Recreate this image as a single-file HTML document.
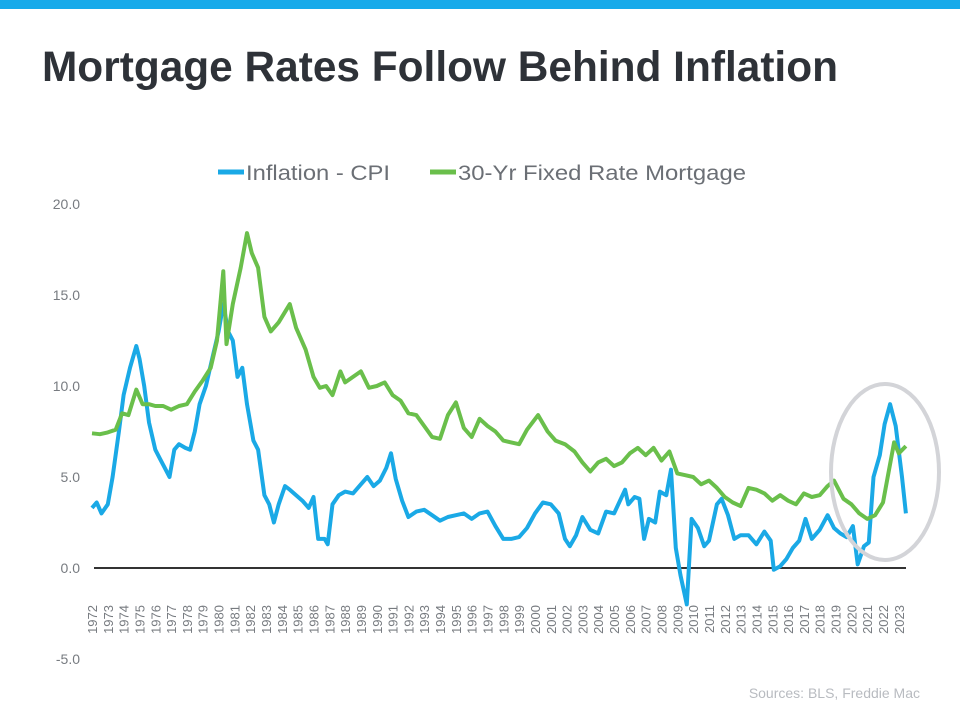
<!DOCTYPE html>
<html><head><meta charset="utf-8"><style>
body{margin:0;background:#fff;}
svg{display:block;font-family:"Liberation Sans",Arial,sans-serif;}
</style></head><body>
<svg id="chart" width="960" height="704">
<rect x="0" y="0" width="960" height="9" fill="#17aaea"/>
<text x="42" y="81" font-size="43" font-weight="bold" fill="#2e3238" textLength="796" lengthAdjust="spacingAndGlyphs">Mortgage Rates Follow Behind Inflation</text>
<g>
<line x1="218" y1="172" x2="244" y2="172" stroke="#1aa9e6" stroke-width="5"/>
<text x="246" y="180" font-size="21.5" fill="#6b6f75" textLength="144" lengthAdjust="spacingAndGlyphs">Inflation - CPI</text>
<line x1="430" y1="172" x2="456" y2="172" stroke="#6abf4b" stroke-width="5"/>
<text x="458" y="180" font-size="21.5" fill="#6b6f75" textLength="288" lengthAdjust="spacingAndGlyphs">30-Yr Fixed Rate Mortgage</text>
</g>
<g id="yaxis"></g>
<g id="xaxis"></g>
<g id="series"></g>
<ellipse cx="885" cy="472" rx="54" ry="88" fill="none" stroke="#d3d4d8" stroke-width="4"/>
<text x="920" y="698" font-size="14" fill="#b8bbc0" text-anchor="end">Sources: BLS, Freddie Mac</text>
</svg>
<script>
const yTicks=[20,15,10,5,0,-5];
const yearLabels=[];for(let y=1972;y<=2023;y++)yearLabels.push(String(y));
const cpiT=[1972.0,1972.3,1972.6,1973.0,1973.3,1973.7,1974.0,1974.4,1974.8,1975.0,1975.3,1975.6,1976.0,1976.3,1976.6,1976.9,1977.2,1977.5,1977.9,1978.2,1978.5,1978.8,1979.2,1979.6,1980.0,1980.3,1980.6,1980.9,1981.2,1981.5,1981.8,1982.2,1982.5,1982.9,1983.2,1983.5,1983.8,1984.2,1984.5,1984.9,1985.3,1985.7,1986.0,1986.3,1986.7,1986.9,1987.2,1987.6,1988.0,1988.5,1989.0,1989.4,1989.8,1990.2,1990.6,1990.9,1991.2,1991.6,1992.0,1992.5,1993.0,1993.5,1994.0,1994.5,1995.0,1995.5,1996.0,1996.5,1997.0,1997.5,1998.0,1998.5,1999.0,1999.5,2000.0,2000.5,2001.0,2001.5,2001.9,2002.2,2002.6,2003.0,2003.5,2004.0,2004.5,2005.0,2005.7,2005.9,2006.3,2006.6,2006.9,2007.2,2007.6,2007.9,2008.3,2008.6,2008.9,2009.2,2009.6,2009.9,2010.3,2010.7,2011.0,2011.5,2011.8,2012.2,2012.6,2013.0,2013.5,2014.0,2014.5,2014.9,2015.1,2015.5,2015.9,2016.3,2016.7,2017.1,2017.5,2018.0,2018.5,2018.9,2019.3,2019.7,2020.1,2020.4,2020.8,2021.1,2021.4,2021.8,2022.1,2022.45,2022.8,2023.2,2023.45];
const cpiV=[3.3,3.6,3.0,3.5,5.0,7.5,9.5,11,12.2,11.5,10,8,6.5,6,5.5,5,6.5,6.8,6.6,6.5,7.5,9,10,11.5,13,14.5,13,12.5,10.5,11,9,7,6.5,4,3.5,2.5,3.5,4.5,4.3,4.0,3.7,3.3,3.9,1.6,1.6,1.3,3.5,4,4.2,4.1,4.6,5.0,4.5,4.8,5.5,6.3,4.9,3.7,2.8,3.1,3.2,2.9,2.6,2.8,2.9,3.0,2.7,3.0,3.1,2.3,1.6,1.6,1.7,2.2,3.0,3.6,3.5,3.0,1.6,1.2,1.8,2.8,2.1,1.9,3.1,3.0,4.3,3.5,3.9,3.8,1.6,2.7,2.5,4.2,4.0,5.4,1.1,-0.4,-2.0,2.7,2.2,1.2,1.5,3.5,3.8,2.9,1.6,1.8,1.8,1.3,2.0,1.5,-0.1,0.1,0.5,1.1,1.5,2.7,1.6,2.1,2.9,2.2,1.9,1.7,2.3,0.2,1.2,1.4,5.0,6.2,7.9,9.0,7.8,5.0,3.0];
const mortT=[1972.0,1972.5,1973.0,1973.5,1973.9,1974.3,1974.8,1975.2,1975.6,1976.0,1976.5,1977.0,1977.5,1978.0,1978.5,1979.0,1979.5,1979.9,1980.3,1980.5,1980.9,1981.4,1981.8,1982.1,1982.5,1982.9,1983.3,1983.8,1984.5,1984.9,1985.5,1986.0,1986.4,1986.8,1987.2,1987.7,1988.0,1988.5,1989.0,1989.5,1990.0,1990.5,1991.0,1991.5,1992.0,1992.5,1993.0,1993.5,1994.0,1994.5,1995.0,1995.5,1996.0,1996.5,1997.0,1997.5,1998.0,1998.5,1999.0,1999.5,2000.2,2000.8,2001.3,2001.9,2002.5,2003.0,2003.5,2004.0,2004.5,2005.0,2005.5,2006.0,2006.5,2007.0,2007.5,2008.0,2008.5,2009.0,2009.5,2010.0,2010.5,2011.0,2011.5,2012.0,2012.5,2013.0,2013.5,2014.0,2014.5,2015.0,2015.5,2016.0,2016.5,2017.0,2017.5,2018.0,2018.5,2018.9,2019.5,2020.0,2020.5,2021.0,2021.5,2022.0,2022.3,2022.7,2023.0,2023.45];
const mortV=[7.4,7.35,7.45,7.6,8.5,8.4,9.8,9.0,9.0,8.9,8.9,8.7,8.9,9.0,9.7,10.3,11,12.5,16.3,12.3,14.5,16.5,18.4,17.3,16.5,13.8,13,13.5,14.5,13.2,12.0,10.5,9.9,10.0,9.5,10.8,10.2,10.5,10.8,9.9,10.0,10.2,9.5,9.2,8.5,8.4,7.8,7.2,7.1,8.4,9.1,7.7,7.2,8.2,7.8,7.5,7.0,6.9,6.8,7.6,8.4,7.5,7.0,6.8,6.4,5.8,5.3,5.8,6.0,5.6,5.8,6.3,6.6,6.2,6.6,5.9,6.4,5.2,5.1,5.0,4.6,4.8,4.4,3.9,3.6,3.4,4.4,4.3,4.1,3.7,4.0,3.7,3.5,4.1,3.9,4.0,4.5,4.8,3.8,3.5,3.0,2.7,2.9,3.6,5.0,6.9,6.3,6.7];
const NS='http://www.w3.org/2000/svg';
const X=t=>92+(t-1972)*15.82;
const Y=v=>568-v*18.2;
const ya=document.getElementById('yaxis'),xa=document.getElementById('xaxis'),sg=document.getElementById('series');
yTicks.forEach(v=>{
 const t=document.createElementNS(NS,'text');
 
 
 t.setAttribute('x',80);t.setAttribute('y',Y(v)+5);t.setAttribute('text-anchor','end');
 t.setAttribute('font-size','14');t.setAttribute('fill','#777b80');
 t.textContent=v.toFixed(1);ya.appendChild(t);
});
const zl=document.createElementNS(NS,'line');


zl.setAttribute('x1',94);zl.setAttribute('x2',906);zl.setAttribute('y1',Y(0));zl.setAttribute('y2',Y(0));
zl.setAttribute('stroke','#333');zl.setAttribute('stroke-width','2');ya.appendChild(zl);
yearLabels.forEach(l=>{
 const x=X(+l)+5,y=605;
 const t=document.createElementNS(NS,'text');
 
 
 t.setAttribute('x',x);t.setAttribute('y',y);t.setAttribute('text-anchor','end');
 t.setAttribute('font-size','13');t.setAttribute('fill','#777b80');
 t.setAttribute('transform','rotate(-90 '+x+' '+y+')');
 t.textContent=l;xa.appendChild(t);
});
function line(T,V,c,n){
 const p=document.createElementNS(NS,'polyline');
 
 
 p.setAttribute('points',T.map((t,i)=>X(t).toFixed(1)+','+Y(V[i]).toFixed(1)).join(' '));
 p.setAttribute('fill','none');p.setAttribute('stroke',c);p.setAttribute('stroke-width','4');
 p.setAttribute('stroke-linejoin','round');sg.appendChild(p);
}
line(cpiT,cpiV,'#1aa9e6','cpi-line');
line(mortT,mortV,'#6abf4b','mortgage-line');
</script>
</body></html>
